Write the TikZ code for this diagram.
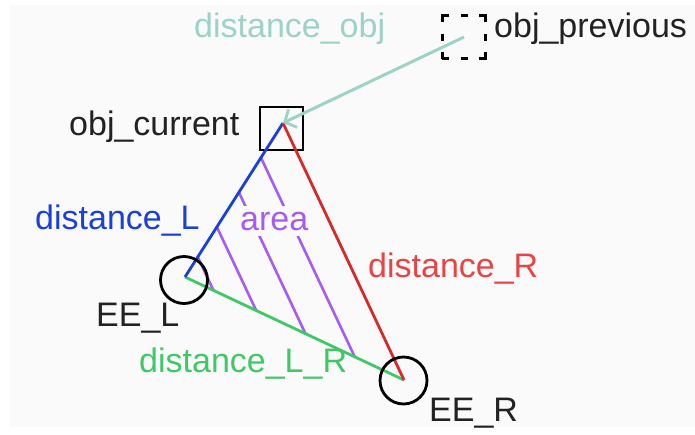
\documentclass[tikz,border=0pt]{standalone}
\usepackage{fontspec}
\setmainfont{Liberation Sans}
\usetikzlibrary{arrows.meta,calc}
\definecolor{bgc}{HTML}{FAFAFA}
\definecolor{txt}{HTML}{222222}
\definecolor{tealc}{HTML}{9DD3C7}
\definecolor{bluec}{HTML}{1B3FD9}
\definecolor{redl}{HTML}{D42A2A}
\definecolor{redt}{HTML}{E64545}
\definecolor{greenc}{HTML}{40C866}
\definecolor{purp}{HTML}{A65CF2}
\begin{document}
\begin{tikzpicture}[x=1pt,y=-1pt,
  lbl/.style={anchor=base west,inner sep=0pt,text=txt,font=\fontsize{34}{40}\selectfont},
  objbox/.style={draw=black,line width=2.8pt,minimum size=43pt,inner sep=0pt},
  prevbox/.style={objbox,minimum size=43.5pt,dash pattern=on 14pt off 11.25pt on 7pt off 11.25pt,dash phase=7pt},
  eecirc/.style={circle,draw=black,line width=2.8pt,minimum size=47pt,inner sep=0pt},
  edge/.style={line width=2.8pt},
  hatch/.style={draw=purp,line width=2.6pt},
  movearrow/.style={draw=tealc,line width=3pt,-{Straight Barb[length=9pt,width=20pt,line width=2.8pt]}}]
\useasboundingbox (0,0) rectangle (695,434);
\fill[bgc] (10,5) rectangle (695,427);

% objects
\node[objbox] (cur) at (281.5,128.5) {};
\node[prevbox] (prev) at (464,37) {};
\coordinate (A) at (283,123);
\coordinate (P) at (464,37);
\coordinate (L) at (185,277);
\coordinate (R) at (404,380);

% hatching of the area
\foreach \t [evaluate=\t as \s using 1-\t] in {0.225,0.45,0.675,0.87}
  \draw[hatch] ($(A)!\t!(L)$) -- ($(L)!\s!(R)$);
\node[lbl,text=purp,fill=bgc,inner xsep=3pt,inner ysep=6pt] (area) at (237,230) {area};

% triangle
\draw[edge,greenc] (L) -- (R);
\draw[edge,bluec] (A) -- (L);
\draw[edge,redl] (A) -- (R);

% end effectors
\node[eecirc] (eel) at (184,280) {};
\node[eecirc] (eer) at (403.5,380.5) {};

% movement arrow
\draw[movearrow] (P) -- (A);

% labels
\node[lbl,text=tealc] (ldobj) at (194,37) {distance\_obj};
\node[lbl] (lprev) at (494,37) {obj\_previous};
\node[lbl] (lcur) at (69,135) {obj\_current};
\node[lbl,text=bluec] (ldl) at (35,229.5) {distance\_L};
\node[lbl,text=redt] (ldr) at (368,277) {distance\_R};
\node[lbl] (leel) at (96,326) {EE\_L};
\node[lbl,text=greenc] (ldlr) at (139,372.5) {distance\_L\_R};
\node[lbl] (leer) at (429,421.5) {EE\_R};
\end{tikzpicture}
\end{document}
